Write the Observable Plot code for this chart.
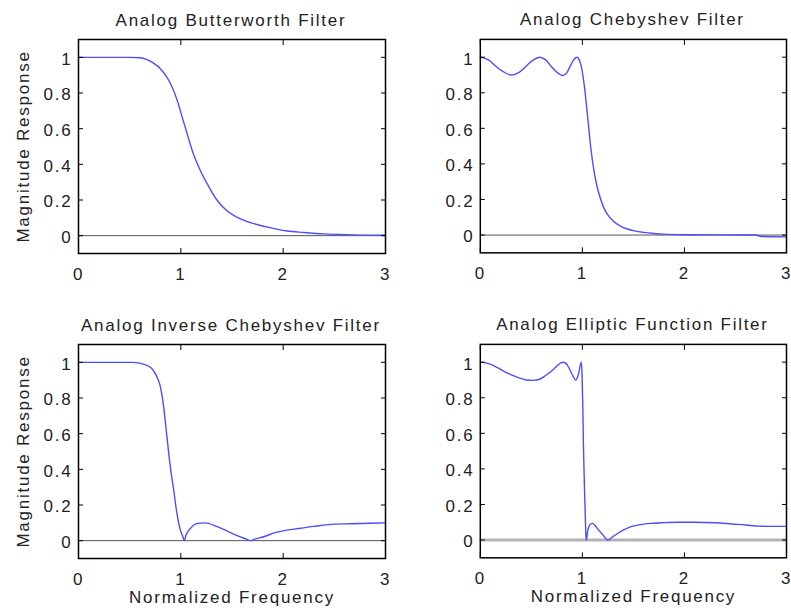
<!DOCTYPE html>
<html><head><meta charset="utf-8">
<script src="https://cdn.jsdelivr.net/npm/d3@7"></script>
<script src="https://cdn.jsdelivr.net/npm/@observablehq/plot@0.6"></script>
<style>
body{margin:0;background:#fff;}
#root{position:relative;width:791px;height:614px;overflow:hidden;background:#fff;}
#root > div{position:absolute;}
</style></head><body><div id="root"></div>
<script>
const xTicks = [0, 1, 2, 3];
const yTicks = [0, 0.2, 0.4, 0.6, 0.8, 1];
const titles = ["Analog Butterworth Filter", "Analog Chebyshev Filter", "Analog Inverse Chebyshev Filter", "Analog Elliptic Function Filter"];
const yLabel = "Magnitude Response";
const xLabel = "Normalized Frequency";

const butterX = [0, 0.3, 0.5, 0.6, 0.67, 0.74, 0.8, 0.85, 0.9, 0.965, 1.013, 1.062, 1.111, 1.176, 1.258, 1.356, 1.44, 1.52, 1.6, 1.68, 1.78, 1.88, 2.04, 2.2, 2.4, 2.6, 2.8, 3.0];
const butterY = [1, 1, 1, 0.998, 0.987, 0.965, 0.936, 0.9, 0.852, 0.758, 0.665, 0.571, 0.478, 0.384, 0.29, 0.197, 0.145, 0.112, 0.09, 0.073, 0.057, 0.044, 0.026, 0.018, 0.01, 0.006, 0.003, 0.002];

const chebX = [0, 0.08, 0.15, 0.22, 0.305, 0.38, 0.46, 0.52, 0.581, 0.64, 0.7, 0.76, 0.808, 0.85, 0.89, 0.92, 0.947, 0.97, 0.993, 1.018, 1.05, 1.083, 1.115, 1.148, 1.18, 1.213, 1.26, 1.31, 1.37, 1.44, 1.52, 1.6, 1.7, 1.8, 2.0, 2.3, 2.6, 2.7, 2.75, 3.0];
const chebY = [1, 0.985, 0.95, 0.92, 0.9, 0.915, 0.955, 0.985, 1, 0.985, 0.945, 0.91, 0.897, 0.915, 0.96, 0.99, 1, 0.985, 0.938, 0.844, 0.675, 0.488, 0.357, 0.263, 0.2, 0.15, 0.105, 0.075, 0.052, 0.034, 0.022, 0.015, 0.009, 0.005, 0.002, 0.001, 0, 0, -0.008, -0.01];

const invX = [0, 0.3, 0.535, 0.635, 0.716, 0.765, 0.8, 0.832, 0.864, 0.897, 0.93, 0.962, 0.995, 1.015, 1.035, 1.05, 1.07, 1.094, 1.16, 1.24, 1.35, 1.43, 1.515, 1.6, 1.65, 1.68, 1.71, 1.75, 1.81, 1.92, 2.01, 2.15, 2.3, 2.5, 2.66, 2.85, 3.0];
const invY = [1, 1, 1, 0.99, 0.966, 0.92, 0.864, 0.752, 0.583, 0.415, 0.284, 0.153, 0.06, 0.03, 0, 0.03, 0.052, 0.069, 0.097, 0.1, 0.08, 0.06, 0.037, 0.017, 0.006, 0, 0.006, 0.013, 0.022, 0.045, 0.056, 0.068, 0.08, 0.093, 0.095, 0.098, 0.1];

const ellX = [0, 0.09, 0.178, 0.24, 0.305, 0.38, 0.451, 0.52, 0.58, 0.64, 0.693, 0.75, 0.806, 0.84, 0.87, 0.905, 0.935, 0.952, 0.968, 0.98, 0.99, 0.997, 1.004, 1.01, 1.016, 1.022, 1.029, 1.035, 1.04, 1.05, 1.064, 1.08, 1.097, 1.12, 1.145, 1.2, 1.25, 1.3, 1.345, 1.41, 1.475, 1.57, 1.67, 1.8, 1.93, 2.1, 2.3, 2.47, 2.6, 2.73, 2.85, 3.0];
const ellY = [1, 0.99, 0.966, 0.945, 0.929, 0.912, 0.9, 0.898, 0.904, 0.925, 0.948, 0.978, 1, 0.993, 0.966, 0.925, 0.9, 0.915, 0.95, 0.985, 1, 0.93, 0.76, 0.545, 0.4, 0.26, 0.13, 0.02, 0, 0.045, 0.075, 0.09, 0.094, 0.085, 0.066, 0.03, 0, 0.02, 0.037, 0.058, 0.075, 0.087, 0.094, 0.098, 0.1, 0.1, 0.097, 0.09, 0.085, 0.078, 0.077, 0.077];

const panels = [
  {title: titles[0], xs: butterX, ys: butterY, left: 0, top: 0, ml: 78, mr: 10, mt: 39, mb: 47, showY: true, showX: false, zero: "#555", zeroW: 1},
  {title: titles[1], xs: chebX, ys: chebY, left: 401, top: 0, ml: 79, mr: 5, mt: 39, mb: 47, showY: false, showX: false, zero: "#555", zeroW: 1},
  {title: titles[2], xs: invX, ys: invY, left: 0, top: 304, ml: 78, mr: 10, mt: 40, mb: 52, showY: true, showX: true, zero: "#555", zeroW: 1},
  {title: titles[3], xs: ellX, ys: ellY, left: 401, top: 304, ml: 79, mr: 5, mt: 40, mb: 52, showY: false, showX: true, zero: "#b4b4b4", zeroW: 3}
];

const fmt = d3.format("~g");
const root = document.getElementById("root");

for (const p of panels) {
  const rows = p.xs.map((x, i) => ({x, y: p.ys[i]}));
  const marks = [
    Plot.ruleY([0], {stroke: p.zero, strokeWidth: p.zeroW}),
    Plot.line(rows, {x: "x", y: "y", curve: "monotone-x", stroke: "#4d4dff", strokeWidth: 1.4, clip: true}),
    Plot.axisX(xTicks, {anchor: "bottom", tickSize: -5, tickPadding: 19, tickFormat: fmt, label: null, fill: "#222", stroke: "#000"}),
    Plot.axisX(xTicks, {anchor: "top", tickSize: -5, tickFormat: () => "", label: null, stroke: "#000"}),
    Plot.axisY(yTicks, {anchor: "left", tickSize: -5, tickFormat: () => "", label: null, stroke: "#000"}),
    Plot.axisY(yTicks, {anchor: "left", tickSize: 0, tickPadding: 6, dy: 2, tickFormat: fmt, label: null, fill: "#222", stroke: "none"}),
    Plot.axisY(yTicks, {anchor: "right", tickSize: -5, tickFormat: () => "", label: null, stroke: "#000"}),
    Plot.frame({stroke: "#000", strokeWidth: 1.5}),
    Plot.text([p.title], {text: d => d, frameAnchor: "top", lineAnchor: "bottom", dy: -14, dx: -1, fill: "#222", letterSpacing: "1.5px"})
  ];
  if (p.showY) marks.push(Plot.text([yLabel], {text: d => d, frameAnchor: "left", dx: -55, rotate: -90, textAnchor: "middle", lineAnchor: "middle", fill: "#222"}));
  if (p.showX) marks.push(Plot.text([xLabel], {text: d => d, frameAnchor: "bottom", lineAnchor: "bottom", dy: 44, fill: "#222"}));
  const chart = Plot.plot({
    width: p.ml + 307 + p.mr,
    height: p.mt + 214 + p.mb,
    marginLeft: p.ml, marginRight: p.mr, marginTop: p.mt, marginBottom: p.mb,
    x: {domain: [0, 3], axis: null},
    y: {domain: [-0.1, 1.1], axis: null},
    style: {fontFamily: "'Liberation Sans', Arial, sans-serif", fontSize: "17px", letterSpacing: "1.75px", color: "#222", background: "transparent", overflow: "visible"},
    marks
  });
  const wrap = document.createElement("div");
  wrap.style.left = p.left + "px";
  wrap.style.top = p.top + "px";
  wrap.appendChild(chart);
  root.appendChild(wrap);
}
</script>
</body></html>
